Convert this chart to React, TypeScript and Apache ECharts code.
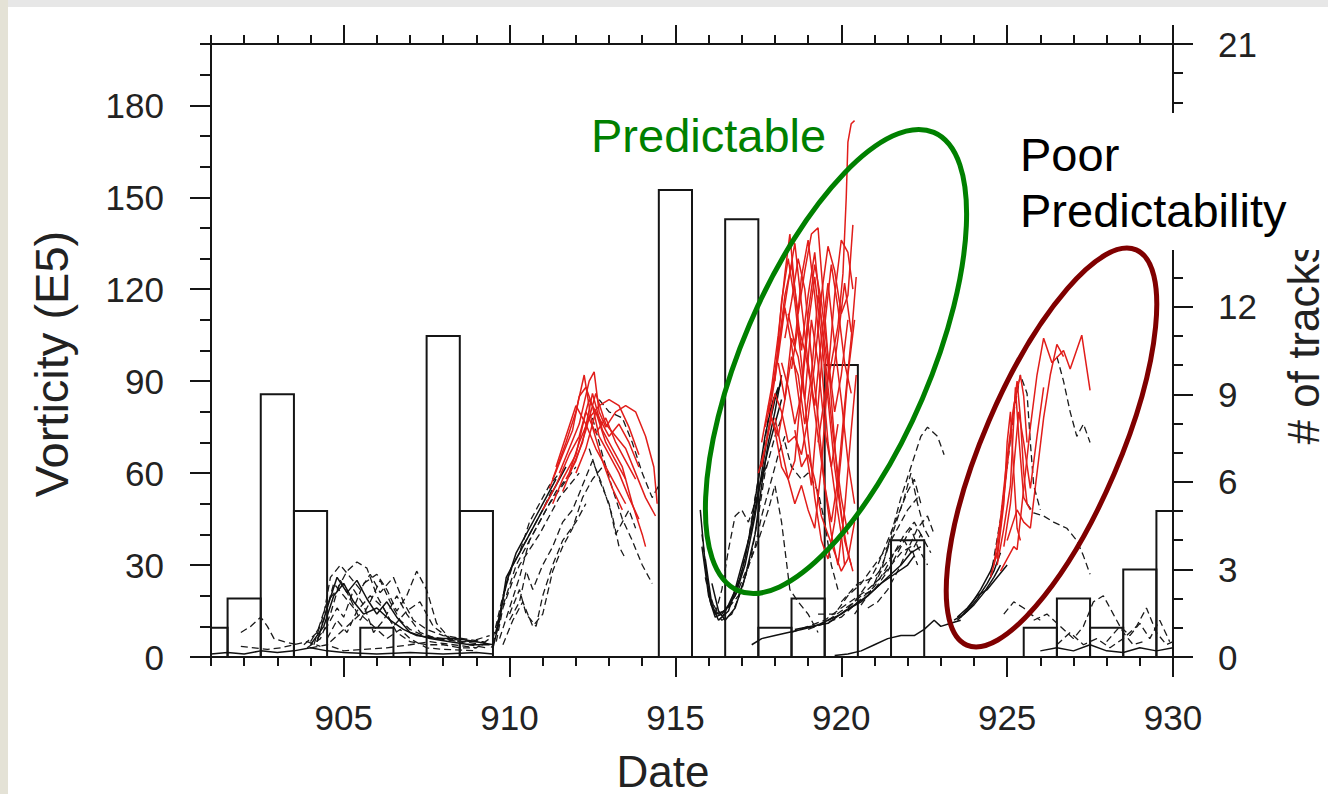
import React, { useEffect, useRef } from "react";
import * as echarts from "echarts";

type Pt = [number, number];

// ---- Histogram: number of tracks per day (right axis) ----
const binDays = [901, 902, 903, 904, 905, 906, 907, 908, 909, 910, 911, 912, 913, 914, 915, 916, 917, 918, 919, 920, 921, 922, 923, 924, 925, 926, 927, 928, 929, 930];
const trackCounts = [1, 2, 9, 5, 0, 1, 0, 11, 5, 0, 0, 0, 0, 0, 16, 0, 15, 1, 2, 10, 0, 4, 0, 0, 0, 1, 2, 1, 3, 5];

// ---- Tick values ----
const xTicksMajor = [905, 910, 915, 920, 925, 930];
const yLeftMajor = [0, 30, 60, 90, 120, 150, 180];
const yRightMajor = [0, 3, 6, 9, 12, 15, 18, 21];
const yRightLabels = [0, 3, 6, 9, 12, 21]; // 15 and 18 are hidden behind the text box

// ---- Vorticity tracks (Date, Vorticity E5) ----
// early period
const dashA1: Pt[] = [[901.9, 8], [902.2, 10], [902.5, 13], [902.7, 10], [902.9, 6], [903.2, 5], [903.6, 4]];
const dashA2: Pt[] = [[901.9, 3.5], [902.3, 3], [902.7, 2.5], [903.1, 3], [903.5, 4], [903.9, 5], [904.3, 3.5]];
const solidA1: Pt[] = [[901.0, 1], [901.5, 1.5], [902.0, 1], [902.5, 2], [903.0, 1.5], [903.5, 2], [904.0, 3], [904.5, 2], [905.0, 1.5], [906.0, 1], [907.0, 1.5], [908.0, 1], [909.0, 1.5], [909.5, 1]];
const dashB1: Pt[] = [[903.8, 4], [904.2, 8], [904.5, 18], [904.8, 22], [905.1, 28], [905.4, 31], [905.7, 29], [906.0, 20], [906.3, 14], [906.6, 8], [907.0, 5], [907.5, 4], [908.0, 4], [908.5, 3], [909.0, 3]];
const dashB2: Pt[] = [[904.0, 5], [904.4, 12], [904.7, 24], [905.0, 20], [905.3, 16], [905.6, 24], [906.0, 27], [906.3, 22], [906.6, 15], [906.9, 20], [907.2, 28], [907.5, 22], [907.8, 11], [908.2, 6], [908.8, 4], [909.3, 3]];
const dashB3: Pt[] = [[903.9, 3], [904.3, 6], [904.6, 14], [904.9, 25], [905.2, 19], [905.5, 12], [905.8, 18], [906.1, 25], [906.4, 18], [906.7, 12], [907.0, 9], [907.4, 7], [908.0, 6], [908.6, 5], [909.2, 4]];
const dashB4: Pt[] = [[904.2, 6], [904.5, 10], [904.8, 16], [905.0, 13], [905.3, 22], [905.6, 17], [905.9, 8], [906.2, 12], [906.6, 20], [906.9, 14], [907.3, 8], [907.8, 6], [908.5, 5], [909.2, 5], [909.5, 3]];
const solidB5: Pt[] = [[904.0, 4], [904.4, 10], [904.7, 20], [905.0, 24], [905.3, 18], [905.6, 14], [906.0, 16], [906.4, 12], [906.8, 9], [907.2, 7], [907.8, 6], [908.4, 6], [909.0, 5], [909.5, 4]];
const dashB7: Pt[] = [[904.6, 5], [905.0, 9], [905.5, 14], [905.9, 10], [906.3, 6], [906.7, 9], [907.0, 6], [907.5, 3], [908.0, 2.5], [909.0, 2]];
const dashB8: Pt[] = [[904.0, 3], [904.5, 4], [905.0, 2], [905.6, 2.5], [906.3, 3], [907.0, 4], [907.6, 5], [908.3, 4], [909.0, 3], [909.4, 6]];
const dashB9: Pt[] = [[904.1, 4], [904.4, 14], [904.6, 26], [904.9, 30], [905.2, 26], [905.5, 22], [905.8, 27], [906.1, 21], [906.5, 26], [906.8, 18], [907.1, 12], [907.5, 9], [908.0, 7], [908.6, 6], [909.2, 5]];
const solidB10: Pt[] = [[904.2, 5], [904.5, 16], [904.8, 26], [905.1, 21], [905.4, 25], [905.7, 19], [906.0, 14], [906.3, 18], [906.6, 13], [907.0, 8], [907.6, 6], [908.2, 5], [908.8, 4], [909.4, 4]];
const dashB11: Pt[] = [[904.5, 6], [904.8, 12], [905.1, 8], [905.4, 15], [905.8, 20], [906.2, 16], [906.5, 10], [906.9, 15], [907.3, 18], [907.7, 10], [908.2, 6], [908.8, 5], [909.4, 7]];
// second event, black part
const dashK1: Pt[] = [[909.5, 6], [909.8, 20], [910.1, 30], [910.4, 36], [910.7, 42], [911.0, 48], [911.3, 55]];
const solidK2: Pt[] = [[909.6, 8], [909.9, 24], [910.2, 34], [910.5, 40], [910.8, 46], [911.1, 52], [911.4, 58]];
const dashK3: Pt[] = [[909.5, 4], [909.7, 14], [910.0, 28], [910.3, 34], [910.6, 44], [910.9, 50], [911.2, 56], [911.5, 60]];
const dashK4: Pt[] = [[909.6, 10], [909.9, 20], [910.2, 30], [910.5, 36], [910.8, 42], [911.1, 48], [911.4, 54], [911.7, 58]];
const dashK5: Pt[] = [[909.7, 6], [910.0, 16], [910.3, 26], [910.6, 38], [910.9, 44], [911.2, 50], [911.6, 56], [912.0, 62]];
const dashK6: Pt[] = [[909.8, 4], [910.1, 12], [910.4, 18], [910.7, 10], [911.0, 14], [911.3, 28], [911.6, 36], [911.9, 42], [912.2, 52], [912.5, 58], [912.8, 62]];
const dashK7: Pt[] = [[910.0, 14], [910.3, 22], [910.5, 14], [910.8, 10], [911.0, 20], [911.3, 30], [911.6, 38], [912.0, 44], [912.3, 50]];
const dashK8: Pt[] = [[912.5, 78], [912.8, 66], [913.1, 55], [913.4, 45], [913.7, 38], [914.0, 30], [914.3, 24]];
const dashK9: Pt[] = [[912.4, 68], [912.7, 58], [913.0, 50], [913.2, 40], [913.4, 44], [913.6, 48], [913.8, 42]];
const dashK10: Pt[] = [[912.7, 84], [913.0, 80], [913.4, 78], [913.7, 70], [914.0, 60], [914.3, 52], [914.5, 56]];
const solidK11: Pt[] = [[909.5, 3], [909.7, 12], [909.9, 26], [910.2, 32], [910.5, 38], [910.8, 44], [911.1, 50], [911.4, 56], [911.7, 62]];
const dashK12: Pt[] = [[909.6, 5], [909.8, 16], [910.1, 25], [910.3, 30], [910.6, 35], [910.9, 40], [911.2, 46], [911.5, 52], [911.8, 56], [912.1, 60]];
const dashK13: Pt[] = [[910.0, 12], [910.3, 18], [910.5, 28], [910.7, 22], [911.0, 30], [911.3, 36], [911.6, 44], [911.9, 48], [912.2, 56], [912.5, 64], [912.8, 56], [913.1, 46], [913.3, 36], [913.5, 32]];
// second event, red part
const redR1: Pt[] = [[911.3, 58], [911.7, 70], [912.0, 80], [912.25, 92], [912.5, 75], [912.8, 64], [913.1, 55], [913.4, 48]];
const redR2: Pt[] = [[911.2, 55], [911.6, 66], [911.9, 74], [912.1, 85], [912.3, 88], [912.5, 82], [912.7, 72], [913.0, 66], [913.3, 60], [913.6, 52], [913.9, 45]];
const redR3: Pt[] = [[911.5, 60], [911.8, 68], [912.1, 76], [912.4, 90], [912.55, 93], [912.7, 80], [912.9, 75], [913.2, 80], [913.5, 82], [913.8, 80], [914.1, 72], [914.35, 62], [914.45, 50]];
const redR4: Pt[] = [[911.0, 48], [911.4, 56], [911.8, 66], [912.1, 72], [912.4, 84], [912.7, 78], [913.0, 72], [913.3, 76], [913.6, 70], [913.9, 62]];
const redR5: Pt[] = [[911.6, 54], [911.9, 62], [912.2, 70], [912.5, 86], [912.8, 74], [913.1, 68], [913.4, 62], [913.7, 50], [914.0, 40], [914.1, 36]];
const redR6: Pt[] = [[911.3, 50], [911.6, 58], [912.0, 66], [912.3, 80], [912.6, 73], [912.9, 78], [913.2, 70], [913.5, 64], [913.8, 58]];
const redR7: Pt[] = [[911.7, 58], [912.0, 64], [912.3, 74], [912.6, 86], [912.9, 76], [913.2, 72], [913.5, 68], [913.8, 60], [914.1, 52], [914.4, 46]];
const redR8: Pt[] = [[912.0, 60], [912.3, 68], [912.6, 80], [912.9, 70], [913.2, 64], [913.5, 58]];
const redR9: Pt[] = [[911.4, 62], [911.7, 72], [912.0, 82], [912.3, 76], [912.6, 68], [912.9, 62], [913.2, 56], [913.5, 50]];
const redR10: Pt[] = [[911.8, 60], [912.1, 70], [912.4, 78], [912.7, 82], [913.0, 84], [913.3, 82], [913.6, 75], [913.9, 66]];
// third event, black part
const solidD1: Pt[] = [[915.75, 48], [915.9, 30], [916.05, 18], [916.2, 13], [916.4, 14], [916.6, 17], [916.9, 24], [917.1, 32], [917.3, 44], [917.5, 58], [917.7, 72], [917.9, 82], [918.1, 88]];
const dashD2: Pt[] = [[915.8, 40], [916.0, 22], [916.2, 15], [916.4, 13], [916.7, 18], [917.0, 28], [917.2, 38], [917.4, 52], [917.6, 64], [917.8, 78], [918.0, 86]];
const solidD3: Pt[] = [[915.9, 32], [916.1, 17], [916.3, 12], [916.6, 15], [916.8, 22], [917.0, 30], [917.3, 42], [917.5, 54], [917.8, 68], [918.0, 76], [918.2, 84]];
const dashD4: Pt[] = [[916.0, 20], [916.3, 14], [916.6, 16], [916.9, 20], [917.1, 26], [917.4, 36], [917.6, 46], [917.9, 58], [918.1, 66], [918.3, 72]];
const dashD5: Pt[] = [[916.2, 14], [916.4, 22], [916.6, 35], [916.8, 46], [917.0, 48], [917.2, 44], [917.4, 50], [917.6, 58], [917.8, 64]];
const dashD6: Pt[] = [[916.6, 16], [916.9, 22], [917.2, 30], [917.5, 38], [917.8, 48], [918.0, 56], [918.2, 44], [918.45, 22], [918.7, 18], [919.0, 14], [919.3, 8]];
const dashD7: Pt[] = [[918.3, 70], [918.5, 62], [918.8, 58], [919.0, 60], [919.3, 54], [919.5, 44], [919.7, 30], [919.9, 22]];
const solidD8: Pt[] = [[916.1, 24], [916.3, 15], [916.5, 12], [916.8, 16], [917.1, 26], [917.4, 40], [917.6, 56], [917.8, 70], [918.0, 80], [918.2, 92]];
const solidD9: Pt[] = [[915.8, 36], [916.0, 20], [916.2, 14], [916.5, 15], [916.8, 20], [917.1, 30], [917.4, 46], [917.6, 60], [917.8, 74], [918.0, 84], [918.2, 90]];
const dashD10: Pt[] = [[915.9, 26], [916.1, 16], [916.4, 12], [916.7, 14], [917.0, 22], [917.3, 34], [917.5, 46], [917.7, 60], [918.0, 72], [918.2, 78]];
// third event, red part
const redE1: Pt[] = [[917.6, 70], [917.9, 88], [918.1, 105], [918.3, 125], [918.45, 138], [918.6, 120], [918.8, 100], [919.0, 118], [919.2, 132], [919.4, 110], [919.6, 88], [919.8, 68], [920.0, 52], [920.2, 40]];
const redE2: Pt[] = [[917.8, 80], [918.0, 92], [918.2, 108], [918.4, 122], [918.6, 135], [918.8, 115], [919.0, 96], [919.2, 82], [919.4, 104], [919.6, 122], [919.8, 102], [920.0, 84], [920.2, 64], [920.4, 50]];
const redE3: Pt[] = [[917.7, 75], [917.9, 84], [918.1, 98], [918.3, 114], [918.5, 102], [918.7, 86], [918.9, 70], [919.1, 56], [919.3, 82], [919.5, 108], [919.7, 128], [919.9, 114], [920.1, 96], [920.3, 86]];
const redE4: Pt[] = [[919.3, 70], [919.5, 85], [919.7, 96], [919.9, 108], [920.05, 125], [920.15, 150], [920.2, 168], [920.3, 174], [920.4, 175]];
const redE5: Pt[] = [[917.9, 86], [918.1, 100], [918.3, 118], [918.5, 128], [918.7, 112], [918.9, 126], [919.1, 138], [919.3, 140], [919.5, 112], [919.7, 84], [919.9, 56], [920.1, 38], [920.3, 30]];
const redE6: Pt[] = [[917.6, 62], [917.8, 74], [918.0, 86], [918.2, 80], [918.4, 70], [918.6, 72], [918.8, 66], [919.0, 78], [919.2, 96], [919.4, 118], [919.6, 134], [919.8, 126], [920.0, 112], [920.2, 118], [920.35, 141]];
const redE7: Pt[] = [[918.2, 96], [918.4, 88], [918.6, 76], [918.8, 86], [919.0, 108], [919.2, 124], [919.4, 104], [919.6, 84], [919.8, 62], [920.0, 46], [920.2, 34], [920.35, 28]];
const redE8: Pt[] = [[918.0, 90], [918.2, 116], [918.4, 130], [918.6, 116], [918.8, 96], [919.0, 72], [919.2, 52], [919.4, 38], [919.6, 32], [919.8, 44], [920.0, 66], [920.2, 92], [920.4, 110]];
const redE9: Pt[] = [[918.3, 104], [918.5, 116], [918.7, 130], [918.9, 120], [919.1, 98], [919.3, 78], [919.5, 56], [919.7, 40], [919.9, 30], [920.1, 48], [920.3, 74], [920.45, 92]];
const redE10: Pt[] = [[918.0, 78], [918.2, 68], [918.4, 58], [918.6, 50], [918.8, 56], [919.0, 48], [919.2, 42], [919.4, 62], [919.6, 92], [919.8, 118], [920.0, 136], [920.2, 132], [920.35, 120]];
const redE11: Pt[] = [[918.5, 94], [918.7, 108], [918.9, 100], [919.1, 88], [919.3, 72], [919.5, 56], [919.7, 44], [919.9, 58], [920.1, 82], [920.3, 104], [920.45, 124]];
const redE12: Pt[] = [[917.8, 82], [918.0, 74], [918.2, 62], [918.4, 58], [918.6, 64], [918.8, 88], [919.0, 112], [919.2, 128], [919.4, 116], [919.6, 98], [919.8, 80], [920.0, 92], [920.2, 110]];
const redE13: Pt[] = [[918.1, 96], [918.3, 84], [918.5, 98], [918.7, 92], [918.9, 76], [919.1, 92], [919.3, 118], [919.5, 102], [919.7, 88], [919.9, 104], [920.1, 122], [920.3, 106]];
const redE14: Pt[] = [[918.6, 74], [918.8, 62], [919.0, 66], [919.2, 58], [919.4, 46], [919.6, 40], [919.8, 34], [920.0, 28], [920.2, 32], [920.4, 44]];
const redE15: Pt[] = [[917.5, 60], [917.7, 68], [917.9, 78], [918.1, 72], [918.3, 84], [918.5, 104], [918.7, 98], [918.9, 84], [919.1, 110], [919.3, 96], [919.5, 74], [919.7, 62], [919.9, 76]];
const redE16: Pt[] = [[918.4, 112], [918.6, 102], [918.8, 124], [919.0, 136], [919.2, 118], [919.4, 96], [919.6, 70], [919.8, 54], [920.0, 40], [920.1, 30]];
// slow growth 917-923
const solidF1: Pt[] = [[917.3, 4], [917.6, 6], [918.0, 7], [918.4, 8], [918.8, 9], [919.2, 10], [919.6, 12], [920.0, 14], [920.4, 17], [920.8, 20], [921.2, 24], [921.6, 27], [922.0, 30], [922.2, 33]];
const dashF2: Pt[] = [[918.5, 8], [919.0, 10], [919.5, 12], [920.0, 16], [920.4, 19], [920.8, 22], [921.2, 26], [921.5, 30], [921.8, 34], [922.1, 36], [922.3, 30]];
const dashF3: Pt[] = [[919.0, 9], [919.5, 11], [920.0, 13], [920.5, 18], [921.0, 23], [921.3, 28], [921.6, 34], [921.9, 40], [922.2, 44], [922.5, 38]];
const dashF4: Pt[] = [[919.3, 14], [919.8, 14], [920.2, 20], [920.6, 24], [921.0, 30], [921.4, 36], [921.7, 42], [922.0, 48], [922.3, 52]];
const dashF5: Pt[] = [[920.0, 18], [920.5, 24], [921.0, 26], [921.3, 30], [921.6, 34], [921.9, 38], [922.1, 34], [922.4, 40], [922.7, 34]];
const dashF6: Pt[] = [[920.4, 14], [920.8, 20], [921.2, 28], [921.5, 40], [921.8, 52], [922.1, 62], [922.4, 72], [922.6, 75], [922.9, 72], [923.1, 66]];
const dashF7: Pt[] = [[921.0, 24], [921.3, 32], [921.6, 42], [921.9, 52], [922.1, 60], [922.3, 50], [922.5, 42], [922.7, 38]];
const dashF8: Pt[] = [[920.8, 16], [921.1, 18], [921.4, 22], [921.7, 28], [922.0, 35], [922.3, 42], [922.6, 46], [922.8, 40]];
const solidF9: Pt[] = [[918.6, 9], [919.1, 10], [919.6, 11], [920.1, 15], [920.6, 18], [921.0, 22], [921.4, 26], [921.8, 30], [922.1, 34], [922.4, 36]];
const dashF10: Pt[] = [[919.6, 12], [920.0, 15], [920.4, 18], [920.8, 24], [921.1, 30], [921.4, 38], [921.7, 46], [922.0, 54], [922.2, 58], [922.4, 50]];
const dashF11: Pt[] = [[920.2, 16], [920.6, 20], [921.0, 22], [921.4, 28], [921.8, 36], [922.1, 42], [922.3, 36], [922.6, 30]];
const solidG1: Pt[] = [[919.8, 0.5], [920.2, 1], [920.6, 2], [921.0, 4], [921.4, 6], [921.8, 7], [922.2, 7], [922.5, 9], [922.8, 12], [923.0, 10], [923.3, 11], [923.6, 12]];
// fourth event
const solidHB1: Pt[] = [[923.4, 12], [923.7, 14], [924.0, 17], [924.3, 21], [924.6, 26], [924.8, 30]];
const solidHB2: Pt[] = [[923.5, 12], [923.8, 15], [924.1, 19], [924.4, 24], [924.6, 28], [924.8, 34]];
const solidHB3: Pt[] = [[923.6, 13], [923.9, 17], [924.2, 22], [924.5, 28], [924.7, 34]];
const solidHB4: Pt[] = [[923.5, 13], [923.8, 16], [924.1, 20], [924.4, 22], [924.7, 26], [925.0, 30]];
const dashHD1: Pt[] = [[924.5, 26], [924.8, 45], [925.0, 62], [925.2, 80], [925.4, 92], [925.6, 86], [925.7, 70], [925.8, 56], [926.0, 48]];
const dashHD2: Pt[] = [[926.5, 98], [926.7, 90], [926.9, 80], [927.1, 72], [927.3, 76], [927.5, 70]];
const dashHD3: Pt[] = [[925.6, 50], [925.8, 47], [926.1, 46], [926.4, 44], [926.8, 42], [927.1, 38], [927.3, 33], [927.5, 27]];
const dashHD4: Pt[] = [[924.9, 14], [925.2, 18], [925.5, 16], [925.7, 14], [926.0, 12]];
const redH1: Pt[] = [[924.5, 26], [924.7, 34], [924.9, 52], [925.1, 72], [925.3, 90], [925.4, 78], [925.5, 60], [925.6, 50]];
const redH2: Pt[] = [[924.6, 30], [924.8, 45], [925.0, 65], [925.2, 82], [925.4, 92], [925.5, 85], [925.6, 70]];
const redH3: Pt[] = [[924.7, 32], [924.9, 50], [925.0, 70], [925.1, 80], [925.2, 60], [925.3, 42], [925.4, 38]];
const redH4: Pt[] = [[924.8, 28], [925.0, 32], [925.2, 36], [925.3, 35], [925.5, 55], [925.7, 75], [925.9, 92], [926.1, 104], [926.35, 96], [926.7, 100], [926.9, 94], [927.25, 105], [927.5, 87]];
const redH5: Pt[] = [[925.0, 38], [925.3, 48], [925.5, 44], [925.7, 42], [925.9, 60], [926.1, 78], [926.3, 92], [926.5, 102], [926.7, 98]];
const redH6: Pt[] = [[924.9, 36], [925.1, 50], [925.2, 62], [925.35, 80], [925.5, 70], [925.7, 55], [925.9, 72], [926.1, 88]];
const redH7: Pt[] = [[924.7, 30], [924.9, 42], [925.1, 56], [925.25, 88], [925.35, 72], [925.5, 52], [925.7, 48]];
// late weak tracks
const dashI1: Pt[] = [[925.8, 12], [926.2, 14], [926.6, 10], [927.0, 6], [927.3, 10], [927.6, 18], [927.9, 20], [928.2, 14], [928.5, 8], [928.8, 4], [929.1, 5]];
const dashI2: Pt[] = [[926.5, 4], [926.9, 8], [927.3, 4], [927.7, 6], [928.1, 3], [928.5, 6], [928.9, 10], [929.2, 16], [929.5, 8], [929.8, 4], [930.0, 5]];
const solidI3: Pt[] = [[926.0, 2], [926.5, 3], [927.0, 2], [927.5, 4], [928.0, 2], [928.5, 1.5], [929.0, 3], [929.5, 2], [930.0, 3]];
const dashI4: Pt[] = [[928.0, 5], [928.4, 10], [928.7, 7], [929.0, 11], [929.3, 6], [929.6, 12], [929.9, 5]];

const blackDashed: Pt[][] = [dashA1, dashA2, dashB1, dashB2, dashB3, dashB4, dashB7, dashB8, dashB9, dashB11, dashK1, dashK3, dashK4, dashK5, dashK6, dashK7, dashK8, dashK9, dashK10, dashK12, dashK13, dashD2, dashD4, dashD5, dashD6, dashD7, dashD10, dashF2, dashF3, dashF4, dashF5, dashF6, dashF7, dashF8, dashF10, dashF11, dashHD1, dashHD2, dashHD3, dashHD4, dashI1, dashI2, dashI4];
const blackSolid: Pt[][] = [solidA1, solidB5, solidB10, solidK2, solidK11, solidD1, solidD3, solidD8, solidD9, solidF1, solidF9, solidG1, solidHB1, solidHB2, solidHB3, solidHB4, solidI3];
const redSolid: Pt[][] = [redR1, redR2, redR3, redR4, redR5, redR6, redR7, redR8, redR9, redR10, redE1, redE2, redE3, redE4, redE5, redE6, redE7, redE8, redE9, redE10, redE11, redE12, redE13, redE14, redE15, redE16, redH1, redH2, redH3, redH4, redH5, redH6, redH7];

const FONT = "'Liberation Sans', Arial, Helvetica, sans-serif";
const INK = "#151515";

export default function App() {
  const ref = useRef<HTMLDivElement>(null);
  useEffect(() => {
    if (!ref.current) return;
    const chart = echarts.init(ref.current, undefined, { renderer: "svg" });
    const tickStyle = { color: INK, width: 2 };
    const lineSeries: any[] = [];
    blackDashed.forEach((d, i) => lineSeries.push({
      type: "line", name: "dashed" + i, data: d, xAxisIndex: 0, yAxisIndex: 0,
      symbol: "none", silent: true, z: 3,
      lineStyle: { color: "#1a1a1a", width: 1.3, type: [7, 4] },
    }));
    blackSolid.forEach((d, i) => lineSeries.push({
      type: "line", name: "solid" + i, data: d, xAxisIndex: 0, yAxisIndex: 0,
      symbol: "none", silent: true, z: 3,
      lineStyle: { color: "#111", width: 1.5 },
    }));
    redSolid.forEach((d, i) => lineSeries.push({
      type: "line", name: "red" + i, data: d, xAxisIndex: 0, yAxisIndex: 0,
      symbol: "none", silent: true, z: 4,
      lineStyle: { color: "#e11d1a", width: 1.5 },
    }));

    const baseLine = (show: boolean) => ({ show, onZero: false, lineStyle: tickStyle });

    const option: any = {
      animation: false,
      backgroundColor: "#ffffff",
      grid: { left: 211, top: 44, width: 962, height: 613, containLabel: false },
      xAxis: [
        {
          type: "value", min: 901, max: 930, interval: 1, position: "bottom",
          axisLine: baseLine(true),
          axisTick: { show: true, length: 9, lineStyle: tickStyle },
          axisLabel: { show: false }, splitLine: { show: false },
        },
        {
          type: "value", min: 901, max: 930, position: "bottom",
          axisLine: baseLine(false),
          axisTick: { show: true, length: 20, customValues: xTicksMajor, lineStyle: tickStyle },
          axisLabel: { show: true, customValues: xTicksMajor, margin: 43, fontSize: 35, color: "#222", fontFamily: FONT },
          splitLine: { show: false },
        },
        {
          type: "value", min: 901, max: 930, interval: 1, position: "top",
          axisLine: baseLine(true),
          axisTick: { show: true, length: 9, lineStyle: tickStyle },
          axisLabel: { show: false }, splitLine: { show: false },
        },
        {
          type: "value", min: 901, max: 930, position: "top",
          axisLine: baseLine(false),
          axisTick: { show: true, length: 19, customValues: xTicksMajor, lineStyle: tickStyle },
          axisLabel: { show: false }, splitLine: { show: false },
        },
      ],
      yAxis: [
        {
          type: "value", min: 0, max: 200, interval: 10, position: "left",
          axisLine: baseLine(true),
          axisTick: { show: true, length: 11, lineStyle: tickStyle },
          axisLabel: { show: false }, splitLine: { show: false },
        },
        {
          type: "value", min: 0, max: 21, interval: 1, position: "right",
          axisLine: baseLine(true),
          axisTick: { show: true, length: 10, lineStyle: tickStyle },
          axisLabel: { show: false }, splitLine: { show: false },
        },
        {
          type: "value", min: 0, max: 200, position: "left",
          axisLine: baseLine(false),
          axisTick: { show: true, length: 21, customValues: yLeftMajor, lineStyle: tickStyle },
          axisLabel: { show: true, customValues: yLeftMajor, margin: 47, fontSize: 35, color: "#222", fontFamily: FONT },
          splitLine: { show: false },
        },
        {
          type: "value", min: 0, max: 21, position: "right",
          axisLine: baseLine(false),
          axisTick: { show: true, length: 20, customValues: yRightMajor, lineStyle: tickStyle },
          axisLabel: { show: true, customValues: yRightLabels, margin: 45, fontSize: 35, color: "#222", fontFamily: FONT },
          splitLine: { show: false },
        },
      ],
      series: [
        {
          type: "custom", name: "# of tracks", xAxisIndex: 0, yAxisIndex: 1, z: 2, silent: true,
          data: binDays.map((d, i) => [d, trackCounts[i]]),
          encode: { x: 0, y: 1 },
          renderItem: (params: any, api: any) => {
            const x = api.value(0);
            const c = api.value(1);
            if (!c) return null;
            const p0 = api.coord([x - 0.5, 0]);
            const p1 = api.coord([x + 0.5, c]);
            const cs = params.coordSys;
            const r = echarts.graphic.clipRectByRect(
              { x: p0[0], y: p1[1], width: p1[0] - p0[0], height: p0[1] - p1[1] },
              { x: cs.x, y: cs.y, width: cs.width, height: cs.height }
            );
            if (!r) return null;
            return { type: "rect", shape: r, style: { fill: "none", stroke: INK, lineWidth: 2 } };
          },
        },
        ...lineSeries,
      ],
      graphic: [
        { type: "rect", z: 50, silent: true, shape: { x: 0, y: 0, width: 1328, height: 7 }, style: { fill: "#e7e7e7" } },
        { type: "rect", z: 50, silent: true, shape: { x: 0, y: 0, width: 8, height: 794 }, style: { fill: "#e4e2d6" } },
        { type: "rect", z: 60, silent: true, shape: { x: 1003, y: 113, width: 325, height: 137 }, style: { fill: "#ffffff" } },
        {
          type: "ellipse", z: 70, silent: true, x: 836, y: 361.5, rotation: 1.167,
          shape: { cx: 0, cy: 0, rx: 249, ry: 94 },
          style: { fill: "none", stroke: "#008000", lineWidth: 5 },
        },
        {
          type: "ellipse", z: 70, silent: true, x: 1051.5, y: 447.5, rotation: 1.166,
          shape: { cx: 0, cy: 0, rx: 215, ry: 68 },
          style: { fill: "none", stroke: "#800000", lineWidth: 5 },
        },
        {
          type: "text", z: 80, silent: true, x: 591, y: 135,
          style: { text: "Predictable", fontSize: 47, fontFamily: FONT, fill: "#008000", textAlign: "left", textVerticalAlign: "middle" },
        },
        {
          type: "text", z: 80, silent: true, x: 1020, y: 154,
          style: { text: "Poor", fontSize: 47, fontFamily: FONT, fill: "#000", textAlign: "left", textVerticalAlign: "middle" },
        },
        {
          type: "text", z: 80, silent: true, x: 1020, y: 210,
          style: { text: "Predictability", fontSize: 47, fontFamily: FONT, fill: "#000", textAlign: "left", textVerticalAlign: "middle" },
        },
        {
          type: "text", z: 80, silent: true, x: 51, y: 364, rotation: Math.PI / 2,
          style: { text: "Vorticity (E5)", fontSize: 47, fontFamily: FONT, fill: "#222", textAlign: "center", textVerticalAlign: "middle" },
        },
        {
          type: "text", z: 55, silent: true, x: 1303, y: 343, rotation: Math.PI / 2,
          style: { text: "# of tracks", fontSize: 44, fontFamily: FONT, fill: "#222", textAlign: "center", textVerticalAlign: "middle" },
        },
        {
          type: "text", z: 80, silent: true, x: 663, y: 771,
          style: { text: "Date", fontSize: 44, fontFamily: FONT, fill: "#222", textAlign: "center", textVerticalAlign: "middle" },
        },
      ],
    };
    chart.setOption(option);
    return () => chart.dispose();
  }, []);
  return (
    <div style={{ position: "fixed", left: 0, top: 0, width: 1328, height: 794, background: "#fff" }}>
      <div ref={ref} style={{ width: 1328, height: 794 }} />
    </div>
  );
}
